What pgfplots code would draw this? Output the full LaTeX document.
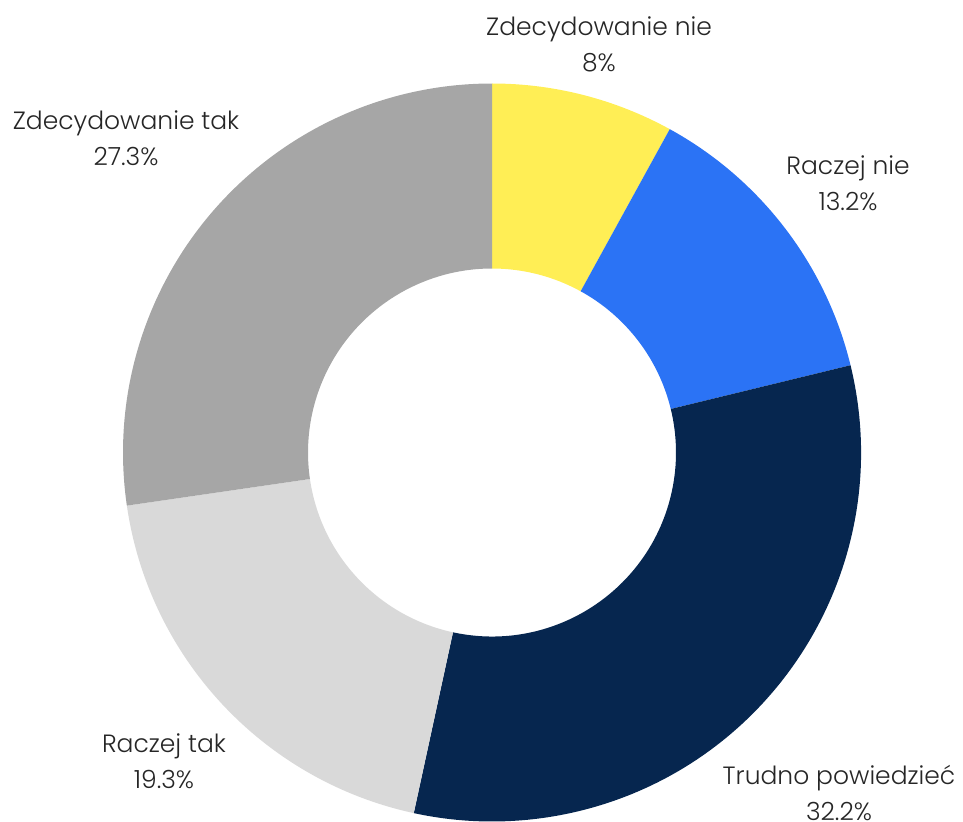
\documentclass[border=0pt]{standalone}
\usepackage{pgfplots}
\usepackage{pgfplotstable}
\pgfplotsset{compat=1.18}
\usepackage{fontspec}
\setmainfont{Poppins}[UprightFont=* Light]
\definecolor{c0}{HTML}{FFEE55}
\definecolor{c1}{HTML}{2B73F5}
\definecolor{c2}{HTML}{06264F}
\definecolor{c3}{HTML}{D9D9D9}
\definecolor{c4}{HTML}{A6A6A6}
\pgfplotstableread[col sep=comma]{
label,value,pct,lx,ly
Zdecydowanie nie,8.0,8\%,107,407.5
Raczej nie,13.2,13.2\%,356,269
Trudno powiedzieć,32.2,32.2\%,347,-341
Raczej tak,19.3,19.3\%,-328,-309
Zdecydowanie tak,27.3,27.3\%,-366,314
}\data
\begin{document}
\begin{tikzpicture}
\begin{axis}[name=ax, x=0.5pt, y=0.5pt, hide axis, clip=false,
  xmin=-492, xmax=471, ymin=-369, ymax=452]
\pgfplotstablegetrowsof{\data}
\pgfmathtruncatemacro\N{\pgfplotsretval-1}
\def\curang{90}
\pgfplotsforeachungrouped \i in {0,...,\N}{%
  \pgfplotstablegetelem{\i}{value}\of\data \let\v\pgfplotsretval
  \pgfmathsetmacro\endang{\curang-3.6*\v}%
  \edef\cmd{\noexpand\fill[c\i, shift={(axis cs:0,-0.5)}] (\curang:184.5pt) arc[start angle=\curang, end angle=\endang, radius=184.5pt] -- (\endang:92pt) arc[start angle=\endang, end angle=\curang, radius=92pt] -- cycle;}%
  \cmd
  \global\let\curang\endang
}
\pgfplotsforeachungrouped \i in {0,...,\N}{%
  \pgfplotstablegetelem{\i}{label}\of\data \let\lab\pgfplotsretval
  \pgfplotstablegetelem{\i}{pct}\of\data \let\pc\pgfplotsretval
  \pgfplotstablegetelem{\i}{lx}\of\data \let\lx\pgfplotsretval
  \pgfplotstablegetelem{\i}{ly}\of\data \let\ly\pgfplotsretval
  \edef\cmd{\noexpand\node[align=center, font=\noexpand\fontsize{12.5}{18}\noexpand\selectfont, text=black!85] at (axis cs:\lx,\ly) {\lab\noexpand\\\pc};}%
  \cmd
}
\end{axis}
\pgfresetboundingbox
\path[use as bounding box] (ax.south west) rectangle (ax.north east);
\end{tikzpicture}
\end{document}
